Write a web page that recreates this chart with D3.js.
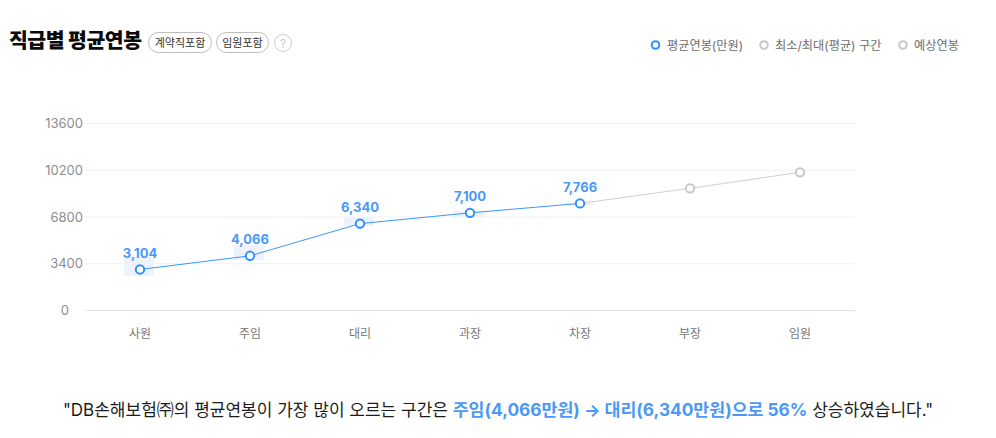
<!DOCTYPE html>
<html><head><meta charset="utf-8">
<script src="https://cdn.jsdelivr.net/npm/d3@7/dist/d3.min.js"></script>
<style>html,body{margin:0;background:#fff}svg{display:block}text{font-family:Inter,"Noto Sans CJK KR",sans-serif}</style>
</head><body><svg id="c" width="996" height="438"></svg>
<script>
const categories=["사원","주임","대리","과장","차장","부장","임원"];
const actual=[3104,4066,6340,7100,7766,null,null];
const expected=[null,null,null,null,7766,8830,9960];
const yTicks=[0,3400,6800,10200,13600];
const bandTops=[3890,4764,6800,7236,7818];
const bandBottoms=[2510,3673,6145,6800,7673];
const legend=[["평균연봉(만원)","#2f90ff"],["최소/최대(평균) 구간","#c8c8c8"],["예상연봉","#c8c8c8"]];
const svg=d3.select("#c");
const x=d3.scaleBand().domain(categories).range([85,855]);
const y=d3.scaleLinear().domain([0,13600]).range([310.5,123.5]);
const yLine=d3.scaleLinear().domain([0,13600]).range([313.4,120.8]);
const cx=c=>x(c)+x.bandwidth()/2;
// grid
svg.append("g").selectAll("line").data(yTicks).join("line")
 .attr("x1",85.5).attr("x2",855).attr("y1",d=>y(d)).attr("y2",d=>y(d))
 .attr("stroke",d=>d===0?"#e2e2e2":"#f1f1f1");
svg.append("g").selectAll("text").data(yTicks).join("text")
 .attr("x",d=>d===0?69:83).attr("y",d=>y(d)+4.5).attr("text-anchor","end")
 .attr("font-size",13).attr("fill","#8e8e8e").text(d=>d);
svg.append("g").selectAll("text").data(categories).join("text")
 .attr("x",cx).attr("y",338).attr("text-anchor","middle")
 .attr("font-size",12).attr("fill","#777").text(d=>d);
// bands
svg.append("g").selectAll("rect").data(categories.slice(0,5)).join("rect")
 .attr("x",d=>cx(d)-16).attr("width",30)
 .attr("y",(d,i)=>y(bandTops[i])).attr("height",(d,i)=>y(bandBottoms[i])-y(bandTops[i]))
 .attr("fill","#eef3fb");
const line=d3.line().defined(d=>d.v!=null).x(d=>cx(d.c)).y(d=>yLine(d.v));
const rows=a=>categories.map((c,i)=>({c,v:a[i]}));
svg.append("path").attr("d",line(rows(expected))).attr("fill","none").attr("stroke","#cfcfcf");
svg.append("path").attr("d",line(rows(actual))).attr("fill","none").attr("stroke","#3b96ff");
svg.append("g").selectAll("circle").data(rows(expected).filter(d=>d.v!=null&&d.c!=="차장")).join("circle")
 .attr("cx",d=>cx(d.c)).attr("cy",d=>yLine(d.v)).attr("r",4.2).attr("fill","#fff").attr("stroke","#c8c8c8").attr("stroke-width",2);
svg.append("g").selectAll("circle").data(rows(actual).filter(d=>d.v!=null)).join("circle")
 .attr("cx",d=>cx(d.c)).attr("cy",d=>yLine(d.v)).attr("r",4.2).attr("fill","#fff").attr("stroke","#2f90ff").attr("stroke-width",2);
svg.append("g").selectAll("text").data(rows(actual).filter(d=>d.v!=null)).join("text")
 .attr("x",d=>cx(d.c)).attr("y",d=>yLine(d.v)-11.5).attr("text-anchor","middle")
 .attr("font-size",13).attr("font-weight",700).attr("fill","#4a98f7").text(d=>d3.format(",")(d.v));
// title
svg.append("text").attr("x",9).attr("y",48).attr("font-size",20.5).attr("font-weight",800).attr("fill","#0a0a0a").attr("letter-spacing",-0.5).text("직급별 평균연봉");
const tags=[["계약직포함",148,64],["임원포함",216,53]];
tags.forEach(([t,tx,w])=>{
 svg.append("rect").attr("x",tx+.5).attr("y",32.5).attr("width",w-1).attr("height",20).attr("rx",10).attr("fill","#fff").attr("stroke","#bdbdbd");
 svg.append("text").attr("x",tx+w/2).attr("y",46.5).attr("text-anchor","middle").attr("font-size",11).attr("fill","#333").text(t);
});
svg.append("circle").attr("cx",283).attr("cy",43).attr("r",8.5).attr("fill","#fff").attr("stroke","#ccc");
svg.append("text").attr("x",283).attr("y",47.5).attr("text-anchor","middle").attr("font-size",12).attr("fill","#ccc").text("?");
// legend
[[655.5,667],[764,775],[903,914]].forEach(([lx,tx],i)=>{
 svg.append("circle").attr("cx",lx).attr("cy",45).attr("r",3.8).attr("fill","#fff").attr("stroke",legend[i][1]).attr("stroke-width",2);
 svg.append("text").attr("x",tx).attr("y",49.5).attr("font-size",12.2).attr("fill","#6e6e6e").text(legend[i][0]);
});
// footer
const f=svg.append("text").attr("x",498).attr("y",416).attr("text-anchor","middle").attr("font-size",17).attr("fill","#1c1c1c");
f.append("tspan").text('"DB손해보험㈜의 평균연봉이 가장 많이 오르는 구간은 ');
f.append("tspan").attr("fill","#4a98f7").attr("font-weight",700).attr("font-size",17.3).text("주임(4,066만원) → 대리(6,340만원)으로 56%");
f.append("tspan").text(' 상승하였습니다."');
</script></body></html>
